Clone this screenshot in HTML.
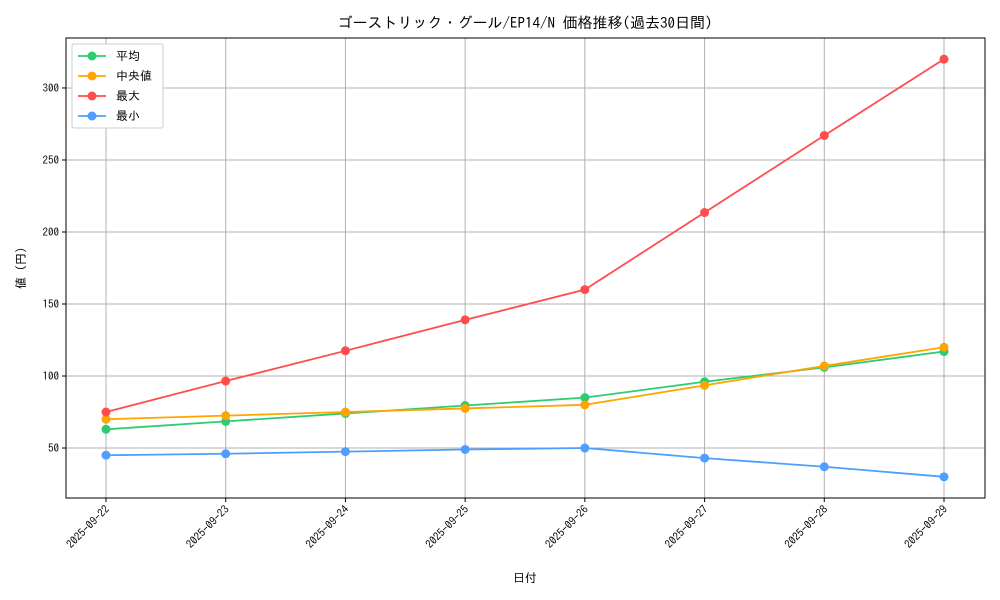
<!DOCTYPE html>
<html><head><meta charset="utf-8"><style>
html,body{margin:0;padding:0;background:#fff;}
svg{display:block;font-family:"IPAGothic","Noto Sans CJK JP",sans-serif;}
</style></head><body>
<svg id="chart" width="1000" height="600" xmlns="http://www.w3.org/2000/svg">
<rect width="1000" height="600" fill="#fff"/>
<text x="525" y="28" text-anchor="middle" font-size="15">ゴーストリック・グール/EP14/N 価格推移(過去30日間)</text>
<g id="grid"></g>
<g id="axes"></g>
<g id="series"></g>
<rect x="66" y="38" width="919" height="460" fill="none" stroke="#000" stroke-width="1"/>
<text x="525" y="582" text-anchor="middle" font-size="12">日付</text>
<text transform="translate(25,268) rotate(-90)" text-anchor="middle" font-size="12">値 (円)</text>
<g id="legend">
<rect x="72" y="44" width="91" height="84" fill="#fff" stroke="#ccc" rx="2"/>
</g>
</svg>
<script>
const categories=["2025-09-22","2025-09-23","2025-09-24","2025-09-25","2025-09-26","2025-09-27","2025-09-28","2025-09-29"];
const avgValues=[63,68.5,74,79.5,85,96,106,117];
const medianValues=[70,72.5,75,77.5,80,93.5,107,120];
const maxValues=[75,96.5,117.5,139,160,213.5,267,320];
const minValues=[45,46,47.5,49,50,43,37,30];
const yTicks=[50,100,150,200,250,300];
const seriesNames=["平均","中央値","最大","最小"];
const NS="http://www.w3.org/2000/svg";
const L=66,R=985,T=38,B=498,yMin=15.3,yMax=334.7;
const x=i=>106+i*(944-106)/(categories.length-1);
const y=v=>B-(v-yMin)/(yMax-yMin)*(B-T);
function mk(tag,attrs,parent){const e=document.createElementNS(NS,tag);for(const k in attrs)e.setAttribute(k,attrs[k]);parent.appendChild(e);return e;}
const grid=document.getElementById('grid'),axes=document.getElementById('axes'),ser=document.getElementById('series'),leg=document.getElementById('legend');
categories.forEach((c,i)=>{
 const g=mk('line',{x1:x(i),x2:x(i),y1:T,y2:B,stroke:'#b0b0b0','stroke-width':1},grid);
 
 
 mk('line',{x1:x(i),x2:x(i),y1:B,y2:B+4,stroke:'#000'},axes);
 const t=mk('text',{x:x(i)+4,y:B+12,'font-size':11,'text-anchor':'end',transform:`rotate(-45 ${x(i)+4} ${B+12})`},axes);
 t.textContent=c;
 
 
});
yTicks.forEach(v=>{
 const g=mk('line',{x1:L,x2:R,y1:y(v),y2:y(v),stroke:'#b0b0b0','stroke-width':1},grid);
 
 
 mk('line',{x1:L-4,x2:L,y1:y(v),y2:y(v),stroke:'#000'},axes);
 const t=mk('text',{x:L-7,y:y(v)+4,'font-size':11,'text-anchor':'end'},axes);
 t.textContent=v;
 
 
});
const allSeries=[[avgValues,'#2ecc71','avg'],[medianValues,'#ffa500','median'],[maxValues,'#ff4d4d','max'],[minValues,'#4d9fff','min']];
allSeries.forEach(([vals,col,key],si)=>{
 const p=mk('polyline',{points:vals.map((v,i)=>x(i)+','+y(v)).join(' '),fill:'none',stroke:col,'stroke-width':1.8},ser);
 
 
 vals.forEach((v,i)=>{
  const c=mk('circle',{cx:x(i),cy:y(v),r:4.5,fill:col},ser);
  
  
 });
 const ly=56+si*20;
 mk('line',{x1:78,x2:106,y1:ly,y2:ly,stroke:col,'stroke-width':1.8},leg);
 mk('circle',{cx:92,cy:ly,r:4.5,fill:col},leg);
 const t=mk('text',{x:116,y:ly+4,'font-size':12},leg);
 t.textContent=seriesNames[si];
 
 
});
</script>
</body></html>
